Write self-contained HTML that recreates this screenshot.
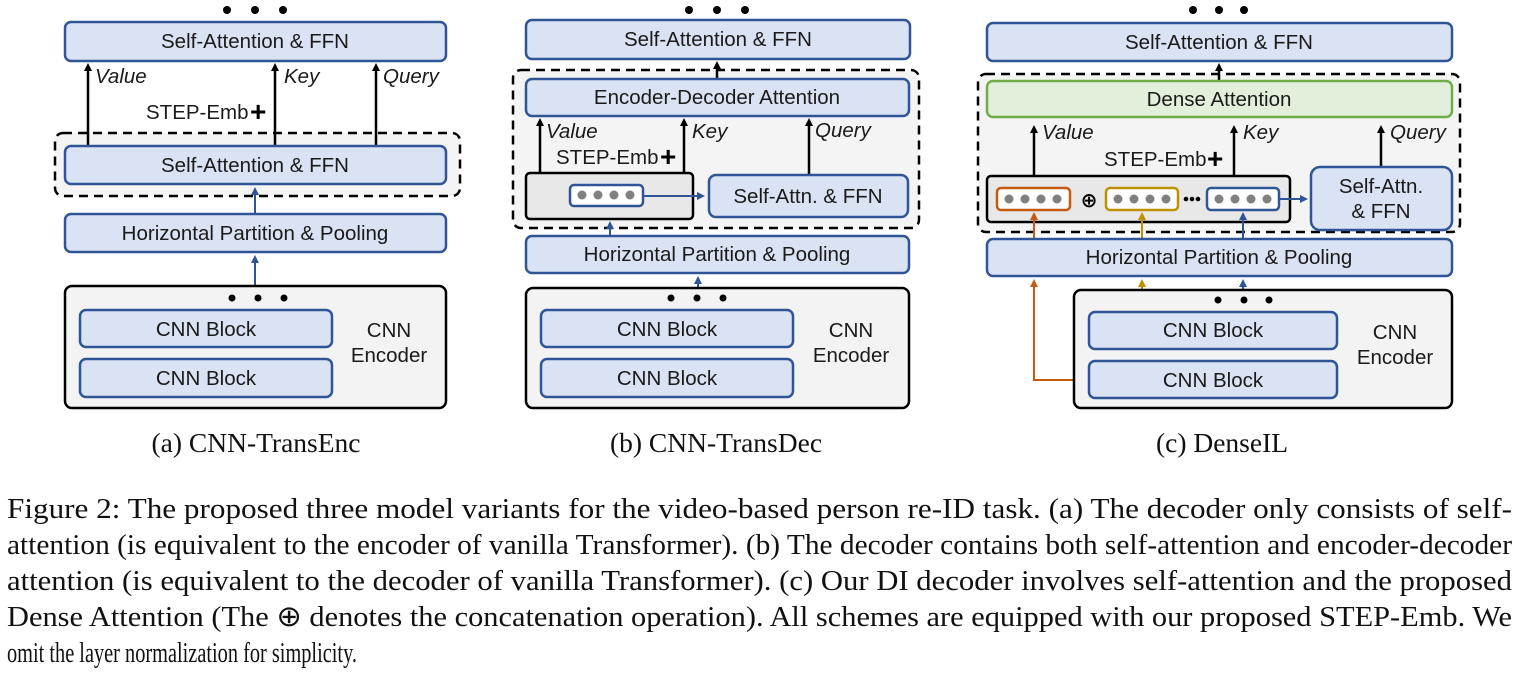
<!DOCTYPE html>
<html><head><meta charset="utf-8"><style>
html,body{margin:0;padding:0;background:#fff}
svg{display:block}
.s{font-family:"Liberation Sans","DejaVu Sans",sans-serif;font-size:20.5px;fill:#1a1a1a}
.i{font-style:italic}
.b{fill:#dae3f3;stroke:#2f5597;stroke-width:2.5}
.cap{font-family:"Liberation Serif",serif;font-size:29px;fill:#111}
.sub{font-family:"Liberation Serif",serif;font-size:27.5px;fill:#111}
</style></head><body>
<svg width="1521" height="678" viewBox="0 0 1521 678" xmlns="http://www.w3.org/2000/svg">
<defs>
<marker id="ak" markerWidth="8" markerHeight="8" refX="4" refY="4" orient="auto" markerUnits="userSpaceOnUse"><path d="M0,0 L8,4 L0,8 z" fill="#000"/></marker>
<marker id="ab" markerWidth="8" markerHeight="8" refX="4" refY="4" orient="auto" markerUnits="userSpaceOnUse"><path d="M0,0 L8,4 L0,8 z" fill="#2f5597"/></marker>
<marker id="ao" markerWidth="8" markerHeight="8" refX="4" refY="4" orient="auto" markerUnits="userSpaceOnUse"><path d="M0,0 L8,4 L0,8 z" fill="#c55a11"/></marker>
<marker id="ag" markerWidth="8" markerHeight="8" refX="4" refY="4" orient="auto" markerUnits="userSpaceOnUse"><path d="M0,0 L8,4 L0,8 z" fill="#bf9000"/></marker>
<g id="tok"><circle cx="10" cy="11" r="4.5" fill="#808080"/><circle cx="26" cy="11" r="4.5" fill="#808080"/><circle cx="42" cy="11" r="4.5" fill="#808080"/><circle cx="58" cy="11" r="4.5" fill="#808080"/></g>
</defs>

<!-- ===== Panel A ===== -->
<g fill="#000"><circle cx="227" cy="10" r="4"/><circle cx="255" cy="10" r="4"/><circle cx="283" cy="10" r="4"/></g>
<rect class="b" x="65" y="22" width="381" height="39" rx="6"/>
<text class="s" x="255" y="48" text-anchor="middle">Self-Attention &amp; FFN</text>
<rect x="55" y="133" width="405" height="63" rx="8" fill="#f4f4f4" stroke="#000" stroke-width="2.5" stroke-dasharray="9,6"/>
<g stroke="#000" stroke-width="2.5" marker-end="url(#ak)"><line x1="88" y1="146" x2="88" y2="67"/><line x1="275" y1="146" x2="275" y2="67"/><line x1="376" y1="146" x2="376" y2="67"/></g>
<text class="s i" x="95" y="83">Value</text><text class="s i" x="284" y="83">Key</text><text class="s i" x="383" y="83">Query</text>
<text class="s" x="146" y="119">STEP-Emb</text><text x="250" y="121" font-family="Liberation Sans" font-size="28" font-weight="bold">+</text>
<rect class="b" x="65" y="146" width="381" height="38" rx="6"/>
<text class="s" x="255" y="172" text-anchor="middle">Self-Attention &amp; FFN</text>
<line x1="255" y1="214" x2="255" y2="191" stroke="#2f5597" stroke-width="2" marker-end="url(#ab)"/>
<rect class="b" x="65" y="214" width="381" height="38" rx="6"/>
<text class="s" x="255" y="240" text-anchor="middle">Horizontal Partition &amp; Pooling</text>
<line x1="255" y1="286" x2="255" y2="259" stroke="#2f5597" stroke-width="2" marker-end="url(#ab)"/>
<rect x="65" y="286" width="381" height="122" rx="7" fill="#f3f3f3" stroke="#000" stroke-width="2.5"/>
<g fill="#000"><circle cx="232" cy="298" r="3.5"/><circle cx="258" cy="298" r="3.5"/><circle cx="284" cy="298" r="3.5"/></g>
<rect class="b" x="80" y="310" width="252" height="37" rx="6"/><text class="s" x="206" y="336" text-anchor="middle">CNN Block</text>
<rect class="b" x="80" y="359" width="252" height="38" rx="6"/><text class="s" x="206" y="385" text-anchor="middle">CNN Block</text>
<text class="s" x="389" y="337" text-anchor="middle">CNN</text><text class="s" x="389" y="362" text-anchor="middle">Encoder</text>
<text class="sub" x="256" y="452" text-anchor="middle">(a) CNN-TransEnc</text>

<!-- ===== Panel B ===== -->
<g fill="#000"><circle cx="689" cy="10" r="4"/><circle cx="717" cy="10" r="4"/><circle cx="745" cy="10" r="4"/></g>
<rect class="b" x="526" y="20" width="384" height="39" rx="6"/>
<text class="s" x="718" y="46" text-anchor="middle">Self-Attention &amp; FFN</text>
<rect x="513" y="70" width="406" height="158" rx="8" fill="#f4f4f4" stroke="#000" stroke-width="2.5" stroke-dasharray="9,6"/>
<line x1="717" y1="79" x2="717" y2="65" stroke="#000" stroke-width="2.5" marker-end="url(#ak)"/>
<rect class="b" x="526" y="79" width="383" height="37" rx="6"/>
<text class="s" x="717" y="104" text-anchor="middle">Encoder-Decoder Attention</text>
<g stroke="#000" stroke-width="2.5" marker-end="url(#ak)"><line x1="540" y1="173" x2="540" y2="122"/><line x1="684" y1="173" x2="684" y2="122"/><line x1="809" y1="175" x2="809" y2="122"/></g>
<text class="s i" x="546" y="138">Value</text><text class="s i" x="692" y="138">Key</text><text class="s i" x="815" y="137">Query</text>
<text class="s" x="556" y="164">STEP-Emb</text><text x="660" y="166" font-family="Liberation Sans" font-size="28" font-weight="bold">+</text>
<rect x="526" y="173" width="167" height="46" rx="4" fill="#e8e8e8" stroke="#000" stroke-width="2.5"/>
<rect x="570" y="185" width="73" height="21" rx="4" fill="#fff" stroke="#2f5597" stroke-width="2.5"/>
<use href="#tok" x="572" y="184"/>
<line x1="643" y1="196" x2="701" y2="196" stroke="#2f5597" stroke-width="2" marker-end="url(#ab)"/>
<rect class="b" x="709" y="175" width="199" height="42" rx="7"/>
<text class="s" x="808" y="203" text-anchor="middle">Self-Attn. &amp; FFN</text>
<line x1="610" y1="236" x2="610" y2="225" stroke="#2f5597" stroke-width="2" marker-end="url(#ab)"/>
<rect class="b" x="526" y="236" width="383" height="37" rx="6"/>
<text class="s" x="717" y="261" text-anchor="middle">Horizontal Partition &amp; Pooling</text>
<line x1="698" y1="288" x2="698" y2="280" stroke="#2f5597" stroke-width="2" marker-end="url(#ab)"/>
<rect x="526" y="288" width="383" height="120" rx="7" fill="#f3f3f3" stroke="#000" stroke-width="2.5"/>
<g fill="#000"><circle cx="671" cy="298" r="3.5"/><circle cx="697" cy="298" r="3.5"/><circle cx="723" cy="298" r="3.5"/></g>
<rect class="b" x="541" y="310" width="252" height="37" rx="6"/><text class="s" x="667" y="336" text-anchor="middle">CNN Block</text>
<rect class="b" x="541" y="359" width="252" height="38" rx="6"/><text class="s" x="667" y="385" text-anchor="middle">CNN Block</text>
<text class="s" x="851" y="337" text-anchor="middle">CNN</text><text class="s" x="851" y="362" text-anchor="middle">Encoder</text>
<text class="sub" x="716" y="452" text-anchor="middle">(b) CNN-TransDec</text>

<!-- ===== Panel C ===== -->
<g fill="#000"><circle cx="1193" cy="10" r="4"/><circle cx="1219" cy="10" r="4"/><circle cx="1244" cy="10" r="4"/></g>
<rect class="b" x="987" y="23" width="465" height="38" rx="6"/>
<text class="s" x="1219" y="49" text-anchor="middle">Self-Attention &amp; FFN</text>
<rect x="978" y="74" width="482" height="158" rx="8" fill="#f4f4f4" stroke="#000" stroke-width="2.5" stroke-dasharray="9,6"/>
<line x1="1219" y1="81" x2="1219" y2="67" stroke="#000" stroke-width="2.5" marker-end="url(#ak)"/>
<rect x="987" y="81" width="465" height="36" rx="6" fill="#e2efda" stroke="#70ad47" stroke-width="2.5"/>
<text class="s" x="1219" y="106" text-anchor="middle">Dense Attention</text>
<g stroke="#000" stroke-width="2.5" marker-end="url(#ak)"><line x1="1034" y1="176" x2="1034" y2="129"/><line x1="1234" y1="176" x2="1234" y2="129"/><line x1="1381" y1="167" x2="1381" y2="129"/></g>
<text class="s i" x="1042" y="139">Value</text><text class="s i" x="1243" y="139">Key</text><text class="s i" x="1390" y="139">Query</text>
<text class="s" x="1104" y="166">STEP-Emb</text><text x="1207" y="168" font-family="Liberation Sans" font-size="28" font-weight="bold">+</text>
<rect x="987" y="176" width="303" height="46" rx="4" fill="#e8e8e8" stroke="#000" stroke-width="2.5"/>
<rect x="997" y="188" width="73" height="22" rx="4" fill="#fff" stroke="#c55a11" stroke-width="2.5"/>
<use href="#tok" x="999" y="188"/>
<text x="1089" y="207" text-anchor="middle" font-family="DejaVu Sans" font-size="20" font-weight="bold">⊕</text>
<rect x="1106" y="188" width="72" height="22" rx="4" fill="#fff" stroke="#bf9000" stroke-width="2.5"/>
<use href="#tok" x="1108" y="188"/>
<g fill="#000"><circle cx="1186" cy="199" r="2.3"/><circle cx="1192" cy="199" r="2.3"/><circle cx="1198" cy="199" r="2.3"/></g>
<rect x="1207" y="188" width="72" height="22" rx="4" fill="#fff" stroke="#2f5597" stroke-width="2.5"/>
<use href="#tok" x="1209" y="188"/>
<line x1="1279" y1="199" x2="1304" y2="199" stroke="#2f5597" stroke-width="2" marker-end="url(#ab)"/>
<rect class="b" x="1311" y="167" width="141" height="63" rx="9"/>
<text class="s" x="1381" y="193" text-anchor="middle">Self-Attn.</text><text class="s" x="1381" y="218" text-anchor="middle">&amp; FFN</text>
<line x1="1034" y1="239" x2="1034" y2="216" stroke="#c55a11" stroke-width="2" marker-end="url(#ao)"/>
<line x1="1142" y1="239" x2="1142" y2="216" stroke="#bf9000" stroke-width="2" marker-end="url(#ag)"/>
<line x1="1243" y1="239" x2="1243" y2="216" stroke="#2f5597" stroke-width="2" marker-end="url(#ab)"/>
<rect class="b" x="987" y="239" width="465" height="37" rx="6"/>
<text class="s" x="1219" y="264" text-anchor="middle">Horizontal Partition &amp; Pooling</text>
<polyline points="1089,380 1034,380 1034,283" fill="none" stroke="#c55a11" stroke-width="2" marker-end="url(#ao)"/>
<line x1="1142" y1="311" x2="1142" y2="283" stroke="#bf9000" stroke-width="2" marker-end="url(#ag)"/>
<line x1="1243" y1="290" x2="1243" y2="283" stroke="#2f5597" stroke-width="2" marker-end="url(#ab)"/>
<rect x="1074" y="290" width="378" height="118" rx="7" fill="#f3f3f3" stroke="#000" stroke-width="2.5"/>
<g fill="#000"><circle cx="1218" cy="300" r="3.5"/><circle cx="1244" cy="300" r="3.5"/><circle cx="1269" cy="300" r="3.5"/></g>
<rect class="b" x="1089" y="312" width="248" height="37" rx="6"/><text class="s" x="1213" y="337" text-anchor="middle">CNN Block</text>
<rect class="b" x="1089" y="361" width="248" height="37" rx="6"/><text class="s" x="1213" y="387" text-anchor="middle">CNN Block</text>
<text class="s" x="1395" y="339" text-anchor="middle">CNN</text><text class="s" x="1395" y="364" text-anchor="middle">Encoder</text>
<text class="sub" x="1222" y="452" text-anchor="middle">(c) DenseIL</text>

<!-- caption -->
<text class="cap" x="7" y="518" textLength="1505" lengthAdjust="spacingAndGlyphs">Figure 2: The proposed three model variants for the video-based person re-ID task. (a) The decoder only consists of self-</text>
<text class="cap" x="7" y="554" textLength="1505" lengthAdjust="spacingAndGlyphs">attention (is equivalent to the encoder of vanilla Transformer). (b) The decoder contains both self-attention and encoder-decoder</text>
<text class="cap" x="7" y="590" textLength="1505" lengthAdjust="spacingAndGlyphs">attention (is equivalent to the decoder of vanilla Transformer). (c) Our DI decoder involves self-attention and the proposed</text>
<text class="cap" x="7" y="626" textLength="1505" lengthAdjust="spacingAndGlyphs">Dense Attention (The ⊕ denotes the concatenation operation). All schemes are equipped with our proposed STEP-Emb. We</text>
<text class="cap" x="7" y="662" textLength="350" lengthAdjust="spacingAndGlyphs">omit the layer normalization for simplicity.</text>
</svg>
</body></html>
